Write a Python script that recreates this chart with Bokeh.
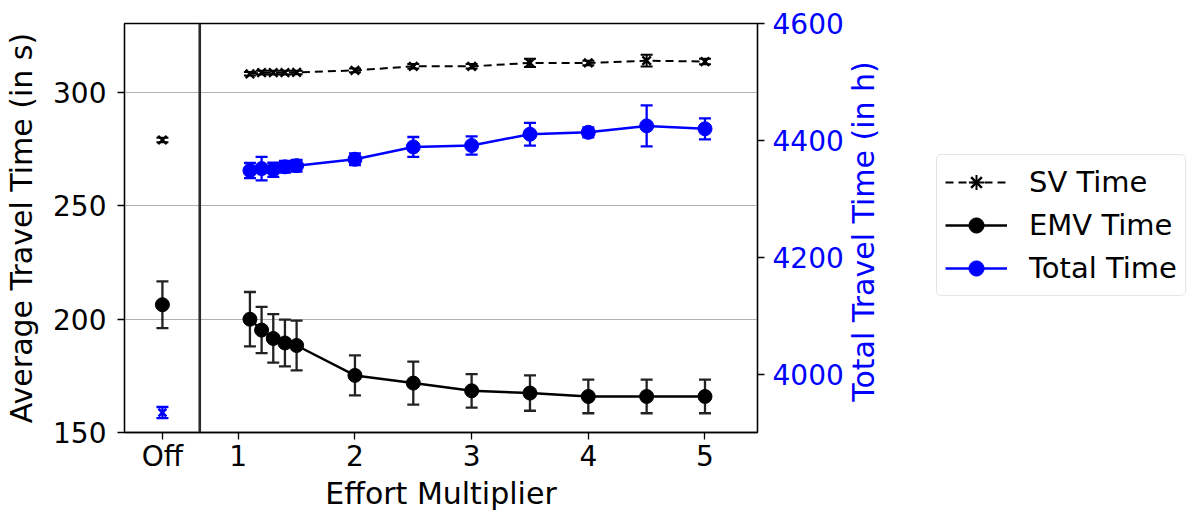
import math
from bokeh.plotting import figure
from bokeh.layouts import row
from bokeh.models import (Range1d, LinearAxis, FixedTicker, Span, Legend, LegendItem, Label)
from bokeh.embed import file_html
from bokeh.resources import INLINE

# ---------------- data ----------------
multipliers = [1.1, 1.2, 1.3, 1.4, 1.5, 2.0, 2.5, 3.0, 3.5, 4.0, 4.5, 5.0]
sv_time = [308.3, 308.8, 308.8, 308.8, 308.9, 309.8, 311.6, 311.6, 313.1, 313.1, 314.1, 313.7]
sv_err = [0.8, 0.8, 0.8, 0.8, 0.8, 0.8, 1.0, 1.0, 1.8, 1.0, 2.6, 1.2]
emv_time = [200.0, 195.2, 191.5, 189.5, 188.4, 175.2, 171.8, 168.4, 167.4, 165.9, 165.9, 165.9]
emv_err = [12.0, 10.2, 10.7, 10.3, 11.0, 8.8, 9.5, 7.4, 7.8, 7.4, 7.4, 7.4]
total_time = [4348.6, 4352.0, 4350.0, 4355.0, 4357.0, 4368.0, 4389.0, 4391.5, 4410.8, 4414.0, 4425.0, 4420.0]
total_err = [13.0, 20.0, 12.0, 10.0, 10.0, 10.0, 17.0, 15.5, 19.5, 8.5, 35.0, 18.0]

off_label = "Off"
off_x = 0.35
divider_x = 0.67
off_sv, off_sv_err = 279.1, 1.0
off_emv, off_emv_err = 206.4, 10.3
off_total, off_total_err = 3935.0, 9.6

x_ticks = [off_x, 1, 2, 3, 4, 5]
x_tick_labels = [off_label, "1", "2", "3", "4", "5"]
left_ticks = [150, 200, 250, 300]
right_ticks = [4000, 4200, 4400, 4600]
series_labels = ["SV Time", "EMV Time", "Total Time"]
x_label = "Effort Multiplier"
left_label = "Average Travel Time (in s)"
right_label = "Total Travel Time (in h)"

FONT = "DejaVu Sans"
BLUE = "#0000ff"
TICK_FS = "28px"
LABEL_FS = "30px"

W, H = 1201, 513
PW = 846                               # width of the main plot canvas
FL, FR, FT, FB = 124, 757, 23, 435     # frame edges in page pixels

p = figure(width=PW, height=H, output_backend="svg", toolbar_location=None,
           x_range=Range1d(0.025, 5.45), y_range=Range1d(150, 330.5),
           min_border_left=FL, min_border_right=PW - FR, min_border_top=FT, min_border_bottom=H - FB)
p.extra_y_ranges = {"total": Range1d(3901, 4600)}
p.outline_line_color = "black"
p.outline_line_width = 1.3
p.xgrid.visible = False
p.ygrid.grid_line_color = "#b0b0b0"
p.ygrid.grid_line_width = 1.2
p.ygrid.ticker = FixedTicker(ticks=left_ticks)

p.xaxis.ticker = FixedTicker(ticks=x_ticks)
p.xaxis.major_label_overrides = {t: l for t, l in zip(x_ticks, x_tick_labels)}
p.yaxis.ticker = FixedTicker(ticks=left_ticks)
p.xaxis.axis_label = x_label
p.yaxis.axis_label = left_label

right = LinearAxis(y_range_name="total", ticker=FixedTicker(ticks=right_ticks))
p.add_layout(right, "right")

for ax in [p.xaxis[0], p.yaxis[0], right]:
    ax.major_label_text_font = FONT
    ax.major_label_text_font_size = TICK_FS
    ax.axis_label_text_font = FONT
    ax.axis_label_text_font_size = LABEL_FS
    ax.axis_label_text_font_style = "normal"
    ax.major_tick_out = 7
    ax.major_tick_in = 0
    ax.minor_tick_out = 0
    ax.minor_tick_in = 0
    ax.axis_line_color = "black"
    ax.major_tick_line_color = "black"
    ax.axis_line_width = 1.3
    ax.major_tick_line_width = 1.3
    ax.major_label_text_color = "black"
    ax.axis_label_text_color = "black"
right.major_label_text_color = BLUE
p.xaxis.major_label_standoff = 0
p.xaxis.axis_label_standoff = 0
p.yaxis.major_label_standoff = 11
p.yaxis.axis_label_standoff = 11
right.major_label_standoff = 8

p.add_layout(Span(location=divider_x, dimension="height", line_color="#2a2a2a", line_width=2.6))

def errbars(xs, ys, es, color, y_range_name="default", cap=12, lw=2.3):
    lo = [y - e for y, e in zip(ys, es)]
    hi = [y + e for y, e in zip(ys, es)]
    p.segment(x0=xs, y0=lo, x1=xs, y1=hi, line_color=color, line_width=lw, y_range_name=y_range_name)
    p.scatter(x=xs + xs, y=lo + hi, marker="dash", size=cap, line_color=color, line_width=lw,
              y_range_name=y_range_name)

# SV time
p.line(multipliers, sv_time, line_color="black", line_width=2, line_dash="8 5")
errbars(multipliers, sv_time, sv_err, "black", lw=2)
p.scatter(multipliers, sv_time, marker="x", size=12, line_color="black", line_width=2.4)
errbars([off_x], [off_sv], [off_sv_err], "black", lw=2)
p.scatter([off_x], [off_sv], marker="x", size=12, line_color="black", line_width=2.4)

# EMV time
p.line(multipliers, emv_time, line_color="black", line_width=2.5)
errbars(multipliers, emv_time, emv_err, "#222222")
p.scatter(multipliers, emv_time, marker="circle", size=14, fill_color="black", line_color="black")
errbars([off_x], [off_emv], [off_emv_err], "#222222")
p.scatter([off_x], [off_emv], marker="circle", size=14, fill_color="black", line_color="black")

# Total time (right axis)
p.line(multipliers, total_time, line_color=BLUE, line_width=2.5, y_range_name="total")
errbars(multipliers, total_time, total_err, BLUE, y_range_name="total")
p.scatter(multipliers, total_time, marker="circle", size=14, fill_color=BLUE, line_color=BLUE,
          y_range_name="total")
errbars([off_x], [off_total], [off_total_err], BLUE, y_range_name="total")
p.scatter([off_x], [off_total], marker="x", size=11, line_color=BLUE, line_width=2.6, y_range_name="total")

# ---------------- right label + legend panel ----------------
# The row aligns this panel's frame with the main frame vertically (FT..FB); its ranges are
# page-pixel coordinates (x offset far away so the proxy series used only by the legend stay hidden).
LW = W - PW
XOFF = 1000
q = figure(width=LW, height=H, output_backend="svg", toolbar_location=None,
           x_axis_type=None, y_axis_type=None,
           x_range=Range1d(XOFF + PW, XOFF + W), y_range=Range1d(H - FB, H - FT),
           min_border=0, outline_line_color=None)
q.grid.visible = False

q.add_layout(Label(x=XOFF + 863, y=H - 232.5, text=right_label, angle=math.pi / 2,
                   text_align="center", text_baseline="middle", text_font=FONT,
                   text_font_size=LABEL_FS, text_color=BLUE))

sv_r = [q.line(multipliers, sv_time, line_color="black", line_width=2, line_dash="8 5"),
        q.scatter(multipliers, sv_time, marker="cross", size=24, line_color="black", line_width=2),
        q.scatter(multipliers, sv_time, marker="x", size=12, line_color="black", line_width=2.4)]
emv_r = [q.line(multipliers, emv_time, line_color="black", line_width=2.5),
         q.scatter(multipliers, emv_time, marker="cross", size=28, line_color="black", line_width=2.3),
         q.scatter(multipliers, emv_time, marker="circle", size=14, fill_color="black", line_color="black")]
tot_r = [q.line(multipliers, total_time, line_color=BLUE, line_width=2.5),
         q.scatter(multipliers, total_time, marker="cross", size=28, line_color=BLUE, line_width=2.3),
         q.scatter(multipliers, total_time, marker="circle", size=14, fill_color=BLUE, line_color=BLUE)]

legend = Legend(items=[LegendItem(label=l, renderers=r)
                       for l, r in zip(series_labels, [sv_r, emv_r, tot_r])],
                location=(936 - PW, FB - 299))
legend.label_text_font = FONT
legend.label_text_font_size = "29px"
legend.label_text_color = "black"
legend.glyph_width = 62
legend.glyph_height = 38
legend.label_standoff = 22
legend.padding = 8
legend.spacing = 5
legend.border_line_color = "#cccccc"
legend.border_line_width = 1.2
legend.background_fill_alpha = 0.8
legend.margin = 0
if "border_radius" in legend.properties():
    legend.border_radius = 5
q.add_layout(legend, "center")

layout = row(p, q, spacing=0)
open("out.html", "w").write(file_html(layout, INLINE))
